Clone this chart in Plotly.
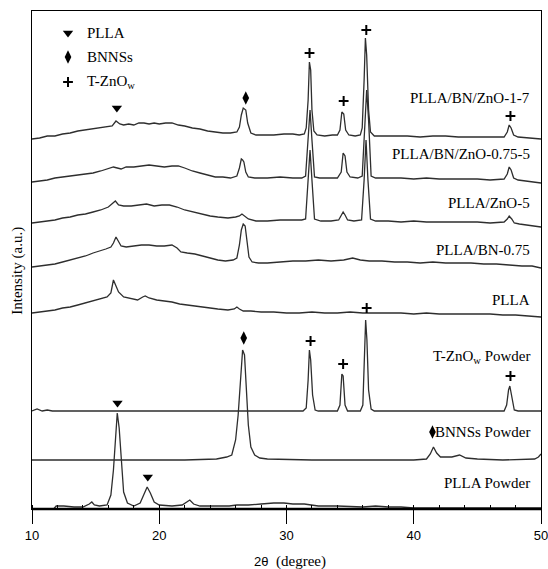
import plotly.graph_objects as go

# ---------------- data (2theta in degree, intensity in a.u., stacked) ----------------
# PLLA/BN/ZnO-1-7
tt_a = [10.0,10.6,11.2,11.8,12.4,13.0,13.6,14.2,14.8,15.4,15.9,16.3,16.6,16.9,17.2,17.6,18.0,18.4,18.8,19.2,
        19.6,20.0,20.5,21.0,21.5,22.0,22.6,23.2,23.8,24.4,25.0,25.6,26.1,26.3,26.45,26.6,26.8,26.95,27.2,27.6,
        28.2,29.0,29.8,30.5,31.0,31.4,31.55,31.7,31.8,31.9,32.0,32.15,32.4,33.0,33.6,34.0,34.2,34.35,34.5,34.65,
        34.9,35.4,35.8,35.95,36.1,36.2,36.3,36.45,36.6,36.9,37.5,38.5,39.5,40.5,41.5,42.5,43.5,44.5,45.5,46.5,
        47.1,47.35,47.5,47.65,47.85,48.2,49.0,50.0]
int_a = [370,371,373,373,375,376,378,379,380,381,382,383,388,385,384,385,384,386,386,385,
         386,385,386,386,384,383,381,380,378,377,376,376,377,382,394,401,399,386,376,374,
         374,374,375,375,374,375,381,409,447,439,399,378,374,373,374,374,379,397,395,379,
         374,373,374,381,429,471,454,399,377,373,373,373,373,372,373,373,372,372,372,372,
         372,377,384,381,374,372,371,370]

# PLLA/BN/ZnO-0.75-5
tt_b = [10.0,10.6,11.2,11.8,12.4,13.0,13.6,14.2,14.8,15.4,16.0,16.4,16.7,17.0,17.4,18.0,18.6,19.2,19.8,20.4,
        21.0,21.5,22.0,22.6,23.2,23.8,24.4,25.0,25.6,26.1,26.3,26.45,26.55,26.65,26.8,27.0,27.5,28.5,29.5,30.5,
        31.2,31.5,31.7,31.85,32.0,32.2,32.6,33.3,34.0,34.3,34.45,34.6,34.75,35.0,35.6,35.95,36.15,36.3,36.45,36.65,
        37.0,38.0,39.0,40.0,41.0,42.0,43.0,44.0,45.0,46.0,47.1,47.35,47.5,47.65,47.85,48.2,49.0,50.0]
int_b = [327,328,329,331,332,333,334,335,336,338,340,342,341,340,342,342,343,344,343,342,
         343,343,341,338,336,334,332,332,331,333,341,350,349,347,337,332,331,331,332,331,
         331,333,369,399,369,332,331,331,331,337,356,353,337,332,331,333,389,419,389,333,
         331,331,331,330,331,330,330,330,330,329,330,335,342,339,331,329,328,326]

# PLLA/ZnO-5
tt_c = [10.0,10.6,11.2,11.8,12.4,13.0,13.6,14.2,14.8,15.4,16.0,16.3,16.55,16.8,17.2,17.8,18.4,19.0,19.6,20.2,
        20.8,21.4,22.0,22.6,23.2,24.0,24.6,25.4,26.0,26.3,26.5,26.7,27.0,27.6,28.5,29.5,30.5,31.2,31.5,31.7,
        31.85,32.0,32.2,32.7,33.5,34.1,34.3,34.45,34.6,34.8,35.3,35.9,36.1,36.25,36.4,36.6,37.0,38.0,39.0,40.0,
        41.0,42.0,43.0,44.0,45.0,46.0,47.1,47.35,47.5,47.7,47.9,48.3,49.0,50.0]
int_c = [286,287,288,289,291,292,294,295,297,299,302,305,308,304,303,303,304,305,303,304,
         304,302,299,297,295,293,292,291,292,293,295,293,290,288,288,289,289,289,290,329,
         359,329,290,288,288,289,293,297,294,289,288,289,329,369,329,290,288,288,287,288,
         287,287,287,287,287,286,287,290,293,290,286,285,284,282]

# PLLA/BN-0.75
tt_d = [10.0,10.6,11.2,11.8,12.4,13.0,13.6,14.2,14.8,15.4,15.8,16.2,16.4,16.6,16.8,17.0,17.4,18.0,18.6,19.2,
        19.8,20.4,21.0,21.4,21.7,22.2,22.8,23.4,24.0,24.6,25.2,25.8,26.1,26.3,26.45,26.6,26.75,26.9,27.05,27.3,
        27.8,28.5,29.5,30.5,31.5,32.5,33.5,34.5,35.2,35.8,36.5,37.5,38.5,39.5,40.5,41.5,42.5,43.5,44.5,45.5,
        46.5,47.5,48.5,49.3,50.0]
int_d = [242,243,244,245,247,249,251,253,256,258,260,262,266,272,267,263,262,263,264,264,
         263,263,264,261,257,256,255,253,251,249,248,249,251,264,279,285,283,269,252,247,
         246,246,247,248,248,249,248,249,251,249,248,248,247,247,246,247,246,246,246,245,
         245,244,243,243,241]

# PLLA
tt_e = [10.0,10.6,11.2,11.8,12.4,13.0,13.6,14.2,14.8,15.4,15.9,16.2,16.4,16.6,16.8,17.2,17.8,18.3,18.7,18.9,
        19.2,19.8,20.4,21.0,21.6,22.2,23.0,23.8,24.6,25.4,25.9,26.1,26.3,26.6,27.2,28.0,29.0,30.0,31.0,32.0,
        33.0,34.0,35.0,36.0,37.0,38.0,39.0,40.0,41.0,42.0,43.0,44.0,45.0,46.0,47.0,48.0,49.0,50.0]
int_e = [196,197,198,199,201,202,204,206,208,210,212,216,229,223,217,212,210,209,212,213,
         211,209,208,207,205,204,202,201,200,199,200,202,200,198,198,197,197,196,196,197,
         196,196,197,196,196,196,196,195,196,195,195,195,195,195,194,194,193,192]

# T-ZnOw Powder
tt_f = [10.0,10.4,10.8,11.2,11.6,12.0,13.0,15.0,18.0,21.0,24.0,27.0,29.0,31.3,31.55,31.7,31.8,31.9,32.05,32.25,
        32.5,34.0,34.2,34.35,34.45,34.6,34.8,35.8,36.0,36.12,36.22,36.32,36.45,36.65,36.9,39.0,42.0,45.0,47.1,47.3,
        47.45,47.55,47.7,47.9,48.2,50.0]
int_f = [98,100,98,99,98,98,98,98,98,98,98,98,98,98,101,129,159,149,114,99,
         98,98,104,135,133,104,98,98,104,149,189,169,119,100,98,98,98,98,98,104,
         119,123,111,99,98,98]

# BNNSs Powder
tt_g = [10.0,14.0,18.0,22.0,24.5,25.3,25.7,26.0,26.2,26.4,26.55,26.7,26.85,27.0,27.2,27.5,27.9,28.5,32.0,36.0,
        40.0,41.0,41.3,41.55,41.8,42.1,43.0,43.6,44.1,45.0,47.0,49.5,49.8,50.0]
int_g = [49,49,49,49,50,52,54,69,94,134,159,154,119,84,62,54,51,50,49,49,
         49,50,55,62,56,52,52,54,51,50,49,50,52,55]

# PLLA Powder
tt_h = [10.0,11.7,11.9,12.5,13.3,14.0,14.5,14.7,14.9,15.3,15.9,16.2,16.4,16.55,16.7,16.85,17.0,17.2,17.5,18.0,
        18.5,18.8,19.05,19.3,19.6,20.0,21.0,21.8,22.2,22.4,22.7,23.2,24.6,25.5,26.1,27.0,28.0,29.0,29.8,30.5,
        31.4,32.5,34.0,36.0,37.0,38.0,39.0,40.0,45.0,50.0]
int_h = [0,0,3,3,2,2,5,7,4,3,4,14,39,74,96,81,49,17,6,3,
         6,14,22,16,7,4,3,4,7,9,5,3,3,3,4,4,5,6,6,5,
         5,3,3,2,3,2,2,1,1,1]

curves = [(tt_a, int_a), (tt_b, int_b), (tt_c, int_c), (tt_d, int_d),
          (tt_e, int_e), (tt_f, int_f), (tt_g, int_g), (tt_h, int_h)]

sample_labels = ["PLLA/BN/ZnO-1-7", "PLLA/BN/ZnO-0.75-5", "PLLA/ZnO-5", "PLLA/BN-0.75",
                 "PLLA", "T-ZnO<sub>w</sub> Powder", "BNNSs Powder", "PLLA Powder"]
label_y = [411, 355, 306, 259, 209, 152, 77, 26]

# peak markers
plla_mark_x = [16.67, 16.72, 19.1]
plla_mark_y = [401, 106, 32]
bn_mark_x = [26.8, 26.64, 41.47]
bn_mark_y = [411, 171, 77]
zno_mark_x = [31.81, 34.49, 36.27, 47.6, 31.89, 34.45, 36.3, 47.6]
zno_mark_y = [456, 408, 479, 393, 168, 145, 201, 133]

# legend entries
legend_names = ["PLLA", "BNNSs", "T-ZnO<sub>w</sub>"]
legend_y = [476, 452, 427]
legend_sym_x = 12.83
legend_text_x = 14.2

x_ticks = [10, 20, 30, 40, 50]

# ---------------- figure ----------------
LINE = "#2e2e2e"
SERIF = "Liberation Serif"
SANS = "Liberation Sans"

fig = go.Figure()
for tt, it in curves:
    fig.add_trace(go.Scatter(x=tt, y=it, mode="lines",
                             line=dict(color=LINE, width=1.3), showlegend=False,
                             hoverinfo="skip"))

sym_tri = dict(symbol="triangle-down", size=9, color="black", line=dict(width=0))
sym_dia = dict(symbol="diamond-tall", size=9.5, color="black", line=dict(width=0))
sym_plus = dict(symbol="cross-thin", size=7, color="black", line=dict(width=2, color="black"))

fig.add_trace(go.Scatter(x=plla_mark_x, y=plla_mark_y, mode="markers", marker=sym_tri, showlegend=False))
fig.add_trace(go.Scatter(x=bn_mark_x, y=bn_mark_y, mode="markers", marker=sym_dia, showlegend=False))
fig.add_trace(go.Scatter(x=zno_mark_x, y=zno_mark_y, mode="markers", marker=sym_plus, showlegend=False))

# legend symbols
for sym, yv in zip([sym_tri, sym_dia, sym_plus], legend_y):
    fig.add_trace(go.Scatter(x=[legend_sym_x], y=[yv], mode="markers", marker=sym, showlegend=False))

annotations = []
for name, yv in zip(legend_names, legend_y):
    annotations.append(dict(x=legend_text_x, y=yv, xref="x", yref="y", text=name, showarrow=False,
                            xanchor="left", yanchor="middle",
                            font=dict(family=SERIF, size=15, color="black")))
for name, yv in zip(sample_labels, label_y):
    annotations.append(dict(x=49.3, y=yv, xref="x", yref="y", text=name, showarrow=False,
                            xanchor="right", yanchor="middle",
                            font=dict(family=SERIF, size=15, color="black")))

annotations.append(dict(x=-0.028, y=0.478, xref="paper", yref="paper", text="Intensity (a.u.)",
                        textangle=-90, showarrow=False, xanchor="center", yanchor="middle",
                        font=dict(family=SERIF, size=15, color="black")))
annotations.append(dict(x=0.468, y=-0.106, xref="paper", yref="paper", text="2θ",
                        showarrow=False, xanchor="right", yanchor="middle",
                        font=dict(family=SANS, size=13, color="black")))
annotations.append(dict(x=0.4755, y=-0.106, xref="paper", yref="paper", text="(degree)",
                        showarrow=False, xanchor="left", yanchor="middle",
                        font=dict(family=SERIF, size=15, color="black")))

fig.update_layout(
    width=548, height=569,
    margin=dict(l=32, r=7, t=11, b=60, autoexpand=False),
    paper_bgcolor="white", plot_bgcolor="white",
    annotations=annotations,
    shapes=[dict(type="line", xref="paper", yref="paper", x0=0, x1=1, y0=0, y1=0,
                 line=dict(color="black", width=2.5))],
)
fig.update_xaxes(range=[10, 50], tickvals=x_ticks, ticks="outside", ticklen=14, tickwidth=1.3,
                 tickcolor="black", tickfont=dict(family=SANS, size=13, color="black"),
                 ticklabeloverflow="allow", automargin=False,
                 showline=True, linecolor="black", linewidth=1, mirror=True,
                 showgrid=False, zeroline=False,
                 minor=dict(dtick=2, tick0=10, ticks="inside", ticklen=4, tickwidth=1, tickcolor="black",
                            showgrid=False))
fig.update_yaxes(range=[0, 498], showticklabels=False, ticks="", showline=True, linecolor="black",
                 linewidth=1.3, mirror=True, showgrid=False, zeroline=False, automargin=False)

fig.write_html("out.html")
